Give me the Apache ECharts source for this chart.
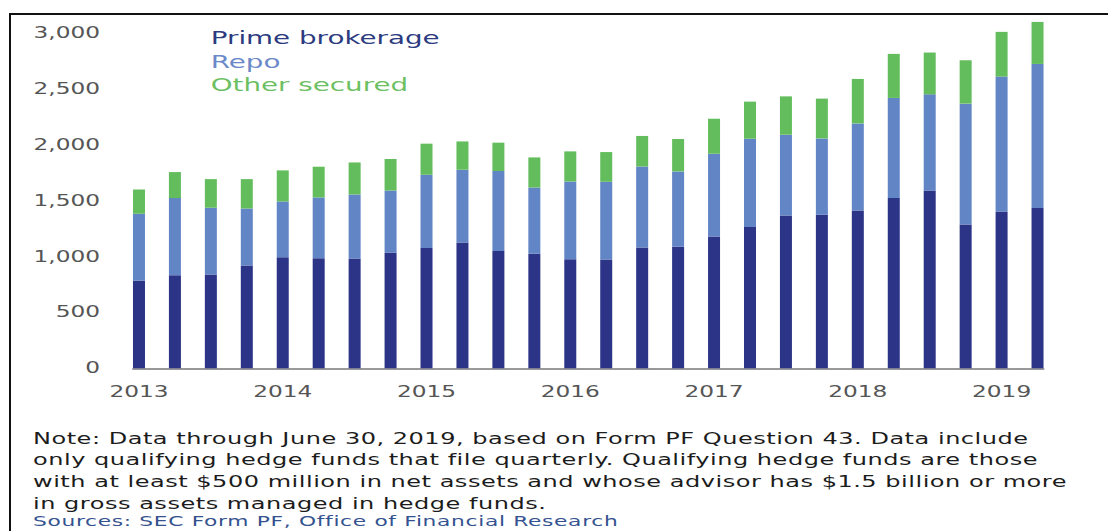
<!DOCTYPE html>
<html>
<head>
<meta charset="utf-8">
<script src="https://cdn.jsdelivr.net/npm/echarts@6/dist/echarts.min.js"></script>
<style>
    html, body { margin: 0; padding: 0; background: #fff; }
    body { width: 1108px; height: 531px; overflow: hidden; position: relative; }
    /* the reference picture is stretched sideways, so the whole drawing is too */
    #wrap { position: absolute; left: 0; top: 0; width: 738.67px; height: 531px; transform: scaleX(1.5); transform-origin: 0 0; }
    #chart { position: absolute; left: 0; top: 0; width: 738.67px; height: 531px; }
    #note { position: absolute; left: 22px; top: 427.5px; font-family: 'DejaVu Sans'; font-size: 16px; letter-spacing: 0.35px; line-height: 21.7px; color: #1c1c1c; white-space: nowrap; }
    #source { position: absolute; left: 22px; top: 511.5px; font-family: 'DejaVu Sans'; font-size: 14.5px; letter-spacing: 0.45px; line-height: 18px; color: #34528f; white-space: nowrap; }
    #frame { position: absolute; left: 9px; top: 13px; width: 1120px; height: 540px; border-top: 2px solid #111; border-left: 2px solid #111; }
</style>
</head>
<body>
<div id="wrap">
    <div id="chart"></div>
    <div id="note">Note: Data through June 30, 2019, based on Form PF Question 43. Data include<br>only qualifying hedge funds that file quarterly. Qualifying hedge funds are those<br>with at least $500 million in net assets and whose advisor has $1.5 billion or more<br>in gross assets managed in hedge funds.</div>
    <div id="source">Sources: SEC Form PF, Office of Financial Research</div>
</div>
<div id="frame"></div>

<script>
// quarters, 2013 Q1 - 2019 Q2
const quarters = [
    '2013 Q1', '2013 Q2', '2013 Q3', '2013 Q4',
    '2014 Q1', '2014 Q2', '2014 Q3', '2014 Q4',
    '2015 Q1', '2015 Q2', '2015 Q3', '2015 Q4',
    '2016 Q1', '2016 Q2', '2016 Q3', '2016 Q4',
    '2017 Q1', '2017 Q2', '2017 Q3', '2017 Q4',
    '2018 Q1', '2018 Q2', '2018 Q3', '2018 Q4',
    '2019 Q1', '2019 Q2'
];
const primeBrokerage = [784, 833, 838, 919, 994, 985, 981, 1033, 1075, 1125, 1048, 1024, 976, 973, 1080, 1086, 1179, 1263, 1367, 1373, 1411, 1522, 1590, 1286, 1402, 1433];
const repo = [598, 689, 598, 510, 498, 543, 574, 557, 656, 651, 716, 593, 695, 695, 725, 675, 740, 790, 722, 683, 779, 896, 860, 1081, 1207, 1289];
const otherSecured = [217, 233, 256, 263, 278, 275, 286, 282, 278, 253, 254, 269, 269, 266, 273, 290, 313, 332, 343, 356, 398, 394, 374, 388, 400, 376];
const yTicks = [0, 500, 1000, 1500, 2000, 2500, 3000];

const seriesNames = ['Prime brokerage', 'Repo', 'Other secured'];
const barColors = ['#2b3486', '#6285c5', '#64bd5d'];
const textColors = ['#2c3a80', '#6b88c8', '#6cbf62'];

const chart = echarts.init(document.getElementById('chart'), null, { renderer: 'svg' });

const labelStyle = {
    fontFamily: 'DejaVu Sans',
    fontSize: 15.5,
    color: '#555'
};

const options = {
    animation: false,
    textStyle: { fontFamily: 'DejaVu Sans' },
    legend: {
        orient: 'vertical',
        left: 135.5,
        top: 28.5,
        padding: 0,
        itemGap: 4.3,
        itemWidth: 0,
        itemHeight: 0,
        selectedMode: false,
        textStyle: { fontFamily: 'DejaVu Sans', fontSize: 18.5, lineHeight: 18 },
        data: seriesNames.map((name, i) => ({
            name: name,
            textStyle: { color: textColors[i] }
        }))
    },
    grid: [
        // bars
        { left: 80.67, right: 35.33, top: 10.5, bottom: 162.7 },
        // baseline only, it runs from the first bar edge to the last one
        { left: 88.67, right: 43.33, top: 10.5, bottom: 162.7 }
    ],
    xAxis: [
        {
            type: 'category',
            gridIndex: 0,
            data: quarters,
            axisLine: { show: false },
            axisTick: { show: false },
            axisLabel: Object.assign({}, labelStyle, {
                interval: 3,
                margin: 15.7,
                formatter: (v) => v.slice(0, 4)
            })
        },
        {
            type: 'value',
            gridIndex: 1,
            min: 0,
            max: 1,
            position: 'bottom',
            axisLine: { show: true, onZero: false, lineStyle: { color: '#777', width: 1.5 } },
            axisTick: { show: false },
            axisLabel: { show: false },
            splitLine: { show: false }
        }
    ],
    yAxis: [
        {
            type: 'value',
            gridIndex: 0,
            min: 0,
            max: 3200,
            interval: 500,
            axisLine: { show: false },
            axisTick: { show: false },
            splitLine: { show: false },
            axisLabel: Object.assign({}, labelStyle, {
                margin: 14,
                formatter: (v) => (yTicks.indexOf(v) >= 0 ? v.toLocaleString('en-US') : '')
            })
        },
        {
            type: 'value',
            gridIndex: 1,
            min: 0,
            max: 1,
            show: false
        }
    ],
    series: [primeBrokerage, repo, otherSecured].map((data, i) => ({
        name: seriesNames[i],
        type: 'bar',
        stack: 'total',
        xAxisIndex: 0,
        yAxisIndex: 0,
        barWidth: 8,
        itemStyle: { color: barColors[i] },
        data: data
    }))
};

chart.setOption(options);
</script>
</body>
</html>
